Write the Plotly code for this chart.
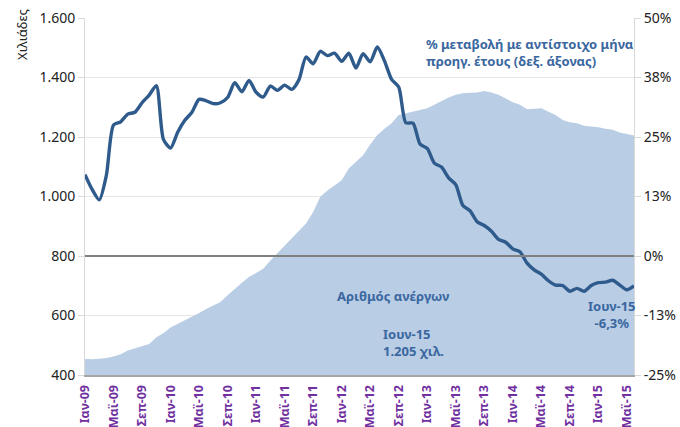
import plotly.graph_objects as go

# Months Jan-2009 .. Jun-2015 (78 months)
month_names = ["Ιαν", "Φεβ", "Μαρ", "Απρ", "Μαϊ", "Ιουν", "Ιουλ", "Αυγ", "Σεπ", "Οκτ", "Νοε", "Δεκ"]
months = [f"{month_names[m]}-{str(y)[2:]}" for y in range(2009, 2016) for m in range(12)][:78]

# Unemployed persons (thousands) - left axis
unemployed = [
    454, 453, 455, 457, 462, 470, 482, 490, 497, 504, 527, 540,
    560, 572, 584, 594, 608, 622, 633, 645, 668, 690, 710, 729,
    742, 757, 785, 810, 836, 858, 885, 909, 948, 999, 1020, 1038,
    1055, 1094, 1118, 1139, 1175, 1207, 1228, 1246, 1274, 1280, 1285, 1290,
    1297, 1308, 1320, 1333, 1342, 1347, 1349, 1350, 1355, 1350, 1342, 1330,
    1317, 1308, 1293, 1295, 1297, 1285, 1274, 1257, 1250, 1246, 1238, 1235,
    1233, 1228, 1224, 1215, 1209, 1205,
]

# % change vs same month previous year - right axis
yoy_change = [
    17.1, 14.0, 11.8, 17.0, 27.5, 28.2, 29.8, 30.2, 32.2, 33.8, 35.8, 24.5,
    22.7, 26.0, 28.5, 30.2, 32.9, 32.6, 32.0, 32.2, 33.3, 36.4, 34.5, 36.9,
    34.4, 33.4, 35.7, 34.8, 35.9, 35.0, 37.0, 41.8, 40.4, 43.0, 42.1, 42.6,
    40.9, 42.6, 39.5, 42.5, 40.8, 43.9, 41.0, 37.1, 35.5, 28.0, 27.9, 23.5,
    22.6, 19.5, 18.7, 16.4, 15.0, 10.6, 9.5, 7.2, 6.4, 5.2, 3.5, 2.9,
    1.5, 0.9, -1.5, -2.9, -3.8, -5.2, -6.1, -6.2, -7.4, -6.8, -7.4, -6.2,
    -5.6, -5.5, -5.1, -6.1, -7.1, -6.3,
]

left_tickvals = [400, 600, 800, 1000, 1200, 1400, 1600]
left_ticktext = ["400", "600", "800", "1.000", "1.200", "1.400", "1.600"]
right_tickvals = [-25, -12.5, 0, 12.5, 25, 37.5, 50]
right_ticktext = ["-25%", "-13%", "0%", "13%", "25%", "38%", "50%"]

x_idx = list(range(len(months)))
xtick_idx = x_idx[::4]
xtick_text = [months[i] for i in xtick_idx]

FONT = "Noto Sans"
TEXT_BLUE = "#3A67A0"
LINE_BLUE = "#2F5B8C"

fig = go.Figure()
fig.add_trace(go.Scatter(
    x=x_idx, y=unemployed, mode="lines", fill="tozeroy",
    fillcolor="#B9CDE5", line=dict(width=0, color="#B9CDE5"),
    yaxis="y", showlegend=False, hoverinfo="skip",
))
fig.add_trace(go.Scatter(
    x=x_idx, y=yoy_change, mode="lines",
    line=dict(color=LINE_BLUE, width=3.4, shape="spline", smoothing=0.7),
    yaxis="y2", showlegend=False,
))

fig.add_shape(type="line", xref="paper", x0=0, x1=1, yref="y2", y0=0, y1=0,
              line=dict(color="#808080", width=2), layer="above")

fig.update_layout(
    width=680, height=427,
    margin=dict(l=85, r=46, t=18, b=52),
    paper_bgcolor="white", plot_bgcolor="white",
    font=dict(family=FONT, size=14, color="#222222"),
    xaxis=dict(
        range=[0, 77], tickvals=xtick_idx, ticktext=xtick_text, automargin=False,
        tickangle=-90, tickfont=dict(family=FONT, size=12.5, color="#7030A0", weight="bold"),
        showgrid=False, zeroline=False, showline=True, linecolor="#A6A6A6", linewidth=2,
        ticks="outside", ticklen=3, tickcolor="rgba(0,0,0,0)",
    ),
    yaxis=dict(
        range=[400, 1600], tickvals=left_tickvals, ticktext=left_ticktext, automargin=False,
        showgrid=True, gridcolor="#E6E6E6", gridwidth=1, zeroline=False,
        showline=True, linecolor="#D9D9D9", linewidth=1,
        ticks="outside", ticklen=6, tickcolor="#D9D9D9",
        tickfont=dict(size=14, color="#222222"),
    ),
    yaxis2=dict(
        range=[-25, 50], tickvals=right_tickvals, ticktext=right_ticktext, automargin=False,
        overlaying="y", side="right", showgrid=False, zeroline=False,
        showline=True, linecolor="#D9D9D9", linewidth=1,
        ticks="outside", ticklen=6, tickcolor="#D9D9D9",
        tickfont=dict(size=14, color="#222222"),
    ),
    annotations=[
        dict(text="Χιλιάδες", xref="paper", yref="paper", x=-0.115, y=0.955,
             textangle=-90, showarrow=False, font=dict(size=13, color="#222222"),
             xanchor="center", yanchor="middle"),
        dict(text="% μεταβολή με αντίστοιχο μήνα<br>προηγ. έτους (δεξ. άξονας)",
             xref="x", yref="y", x=47.6, y=1483, xanchor="left", align="left",
             showarrow=False, font=dict(size=13, color=TEXT_BLUE, weight="bold")),
        dict(text="Αριθμός ανέργων", xref="x", yref="y", x=43.2, y=664,
             showarrow=False, font=dict(size=13, color=TEXT_BLUE, weight="bold")),
        dict(text="Ιουν-15<br>1.205 χιλ.", xref="x", yref="y", x=41.5, y=509,
             xanchor="left", align="left", showarrow=False,
             font=dict(size=13, color=TEXT_BLUE, weight="bold")),
        dict(text="Ιουν-15<br>-6,3%", xref="x", yref="y", x=73.9, y=603,
             align="center", showarrow=False,
             font=dict(size=13, color=TEXT_BLUE, weight="bold")),
    ],
)

fig.write_html("out.html", config={"displayModeBar": False},
               post_script="document.body.style.margin='0';document.body.style.padding='0';")
